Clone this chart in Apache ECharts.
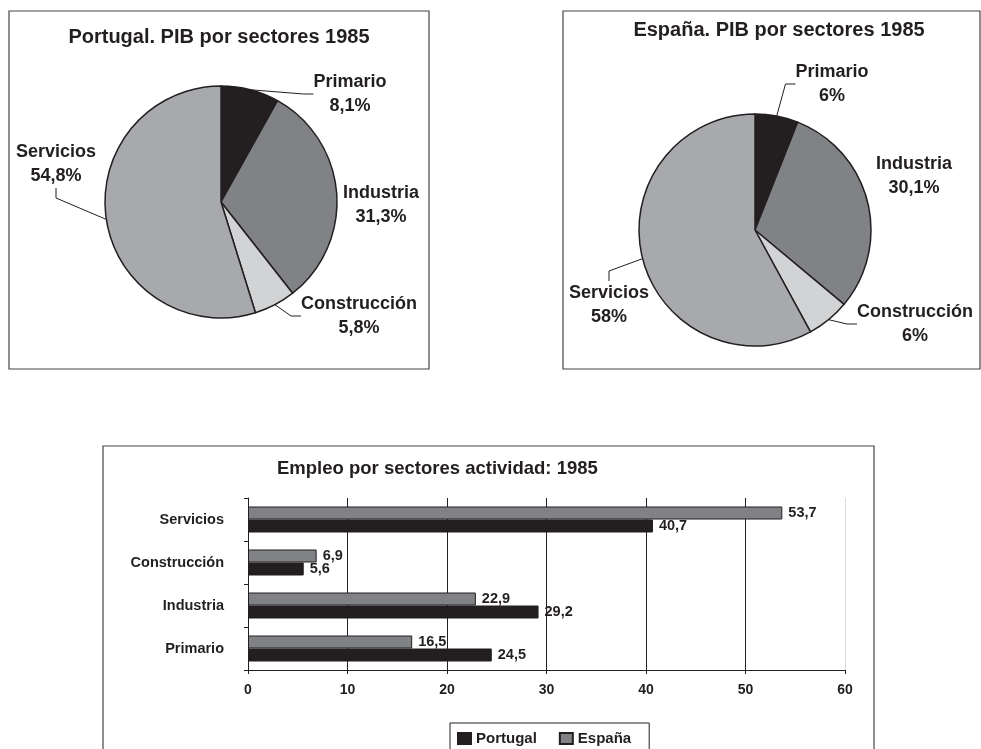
<!DOCTYPE html>
<html lang="es">
<head>
    <meta charset="UTF-8">
    <title>PIB y empleo por sectores 1985</title>
    <script src="https://cdn.jsdelivr.net/npm/echarts@6/dist/echarts.min.js"></script>
    <style>
        html, body { margin: 0; padding: 0; background: #fff; }
    </style>
</head>
<body>
    <div id="chart" style="width: 981px; height: 749px;"></div>
    <script>
    var myChart = echarts.init(document.getElementById('chart'));

    // sectores
    var sectores = ['Primario', 'Industria', 'Construcción', 'Servicios'];
    // PIB 1985 (%)
    var pibPortugal = [8.1, 31.3, 5.8, 54.8];
    var pibEspana = [6, 30.1, 6, 58];
    // empleo 1985, de abajo arriba
    var categoriasEmpleo = ['Primario', 'Industria', 'Construcción', 'Servicios'];
    var empleoPortugal = [24.5, 29.2, 5.6, 40.7];
    var empleoEspana = [16.5, 22.9, 6.9, 53.7];
    var ticksEmpleo = [0, 10, 20, 30, 40, 50, 60];

    var colorSector = ['#231f20', '#808285', '#d1d3d4', '#a7a9ac'];
    var negro = '#231f20';
    var fuente = '"Liberation Sans", Arial, sans-serif';

    // donde van las etiquetas de las tartas
    var etqPortugal = [[350, 94], [381, 205], [359, 316], [56, 164]];
    var etqEspana = [[832, 84], [914, 176], [915, 324], [609, 305]];
    // Industria sin linea guia
    var conLinea = [true, false, true, true];

    function coma(v) {
        return String(v).replace('.', ',');
    }

    function datosTarta(valores) {
        var d = [];
        for (var i = 0; i < sectores.length; i++) {
            d.push({
                name: sectores[i],
                value: valores[i],
                itemStyle: { color: colorSector[i] },
                labelLine: { show: conLinea[i] }
            });
        }
        return d;
    }

    function serieTarta(valores, centro, etq) {
        return {
            type: 'pie',
            radius: 116,
            center: centro,
            startAngle: 90,
            clockwise: true,
            animation: false,
            silent: true,
            data: datosTarta(valores),
            itemStyle: { borderColor: negro, borderWidth: 1.5 },
            label: {
                show: true,
                position: 'outside',
                overflow: 'none',
                formatter: function (p) { return p.name + '\n' + coma(p.value) + '%'; },
                color: negro,
                fontFamily: fuente,
                fontWeight: 'bold',
                fontSize: 18,
                lineHeight: 24,
                align: 'center'
            },
            labelLine: { show: true, length: 10, length2: 10, lineStyle: { color: negro, width: 1 } },
            labelLayout: function (p) {
                var pos = etq[p.dataIndex];
                return { x: pos[0], y: pos[1], align: 'center', verticalAlign: 'middle' };
            }
        };
    }

    var etiquetaBarra = {
        show: true, position: 'right', distance: 6,
        formatter: function (p) { return coma(p.value); },
        fontFamily: fuente, fontWeight: 'bold', fontSize: 14.5, color: negro
    };

    var option = {
        backgroundColor: '#fff',
        animation: false,
        title: [
            {
                text: 'Portugal. PIB por sectores 1985',
                left: 214, top: 22, textAlign: 'center',
                textStyle: { fontFamily: fuente, fontWeight: 'bold', fontSize: 20, color: negro }
            },
            {
                text: 'España. PIB por sectores 1985',
                left: 774, top: 15, textAlign: 'center',
                textStyle: { fontFamily: fuente, fontWeight: 'bold', fontSize: 20, color: negro }
            },
            {
                text: 'Empleo por sectores actividad: 1985',
                left: 272, top: 454,
                textStyle: { fontFamily: fuente, fontWeight: 'bold', fontSize: 18.5, color: negro }
            }
        ],
        graphic: [
            { type: 'rect', shape: { x: 9, y: 11, width: 420, height: 358 }, style: { fill: null, stroke: '#444', lineWidth: 1.2 }, z: -1 },
            { type: 'rect', shape: { x: 563, y: 11, width: 417, height: 358 }, style: { fill: null, stroke: '#444', lineWidth: 1.2 }, z: -1 },
            { type: 'rect', shape: { x: 103, y: 446, width: 771, height: 330 }, style: { fill: null, stroke: '#444', lineWidth: 1.2 }, z: -1 }
        ],
        legend: {
            data: ['Portugal', 'España'],
            left: 450, top: 723,
            orient: 'horizontal',
            borderColor: negro,
            borderWidth: 1,
            padding: [8, 18, 20, 7],
            itemWidth: 13,
            itemHeight: 11,
            itemGap: 22,
            icon: 'rect',
            textStyle: { fontFamily: fuente, fontWeight: 'bold', fontSize: 15, color: negro }
        },
        grid: { left: 248, right: 136, top: 498, bottom: 79, containLabel: false },
        xAxis: {
            type: 'value',
            min: ticksEmpleo[0],
            max: ticksEmpleo[ticksEmpleo.length - 1],
            interval: 10,
            axisLine: { show: true, lineStyle: { color: negro, width: 1 } },
            axisTick: { show: true, length: 4, lineStyle: { color: negro } },
            axisLabel: { fontFamily: fuente, fontWeight: 'bold', fontSize: 14, color: negro, margin: 13 },
            splitLine: { show: true, lineStyle: { color: [negro, negro, negro, negro, negro, negro, '#ddd'], width: 1 } }
        },
        yAxis: {
            type: 'category',
            data: categoriasEmpleo,
            axisLine: { show: true, lineStyle: { color: negro, width: 1 } },
            axisTick: { show: true, length: 4, lineStyle: { color: negro } },
            axisLabel: { fontFamily: fuente, fontWeight: 'bold', fontSize: 14.5, color: negro, margin: 24 }
        },
        series: [
            serieTarta(pibPortugal, [221, 202], etqPortugal),
            serieTarta(pibEspana, [755, 230], etqEspana),
            {
                name: 'España',
                type: 'bar',
                data: empleoEspana,
                barWidth: 13,
                barGap: '0%',
                itemStyle: { color: '#808285', borderColor: negro, borderWidth: 1 },
                label: etiquetaBarra
            },
            {
                name: 'Portugal',
                type: 'bar',
                data: empleoPortugal,
                barWidth: 13,
                barGap: '0%',
                itemStyle: { color: negro, borderColor: negro, borderWidth: 1 },
                label: etiquetaBarra
            }
        ]
    };

    myChart.setOption(option);
    </script>
</body>
</html>
